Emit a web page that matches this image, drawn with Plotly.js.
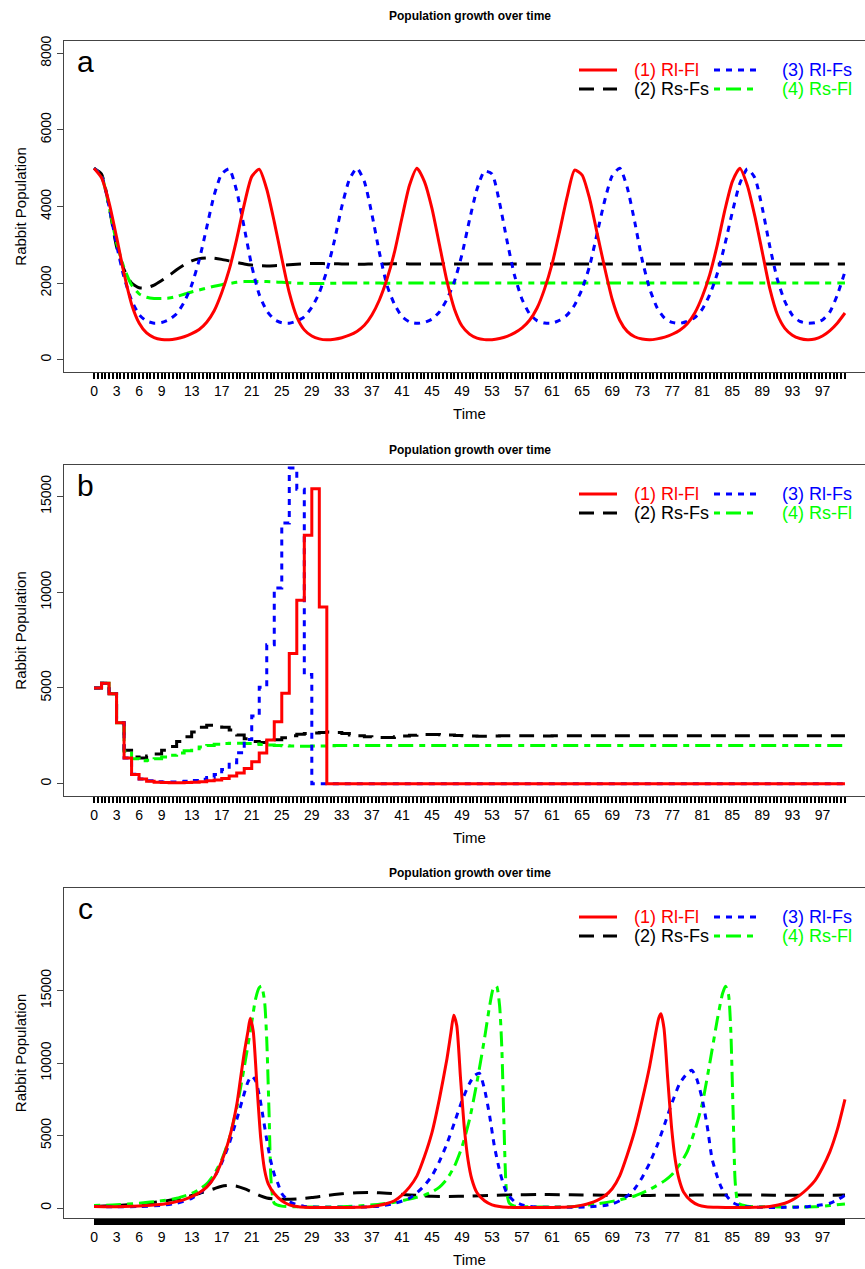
<!DOCTYPE html>
<html><head><meta charset="utf-8">
<script src="https://cdn.plot.ly/plotly-3.0.1.min.js"></script>
<style>html,body{margin:0;padding:0;overflow:hidden;background:#fff}#chart{width:880px;height:1269px}</style>
</head><body><div id="chart"></div>
<script>
// ---------------- DATA ----------------
const timeSteps = [0,1,2,3,4,5,6,7,8,9,10,11,12,13,14,15,16,17,18,19,20,21,22,23,24,25,26,27,28,29,30,31,32,33,34,35,36,37,38,39,40,41,42,43,44,45,46,47,48,49,50,51,52,53,54,55,56,57,58,59,60,61,62,63,64,65,66,67,68,69,70,71,72,73,74,75,76,77,78,79,80,81,82,83,84,85,86,87,88,89,90,91,92,93,94,95,96,97,98,99,100];
const xLabelValues = [0,3,6,9,13,17,21,25,29,33,37,41,45,49,53,57,61,65,69,73,77,81,85,89,93,97];
const yTickValuesA = [0,2000,4000,6000,8000];
const yTickValuesBC = [0,5000,10000,15000];
const seriesNames = ['(1) Rl-Fl','(2) Rs-Fs','(3) Rl-Fs','(4) Rs-Fl'];
const panelLetters = ['a','b','c'];
const chartTitle = 'Population growth over time';
const xTitle = 'Time';
const yTitle = 'Rabbit Population';

// Panel a (integer time steps)
const a_RlFl = [5000,4750,4100,3200,2250,1450,960,700,580,530,520,550,600,680,790,980,1280,1750,2350,3150,4050,4780,4970,4450,3600,2650,1750,1120,780,620,545,520,535,575,640,740,900,1170,1560,2100,2800,3700,4550,5000,4650,3950,3000,2050,1320,880,670,565,525,525,555,610,700,830,1030,1350,1850,2500,3350,4250,4950,4820,4200,3300,2400,1580,1030,740,600,540,520,545,590,665,770,940,1220,1650,2230,3000,3900,4650,5000,4550,3750,2800,1850,1180,820,640,555,522,540,620,760,960,1220];
const a_RsFs = [5000,4850,4000,2950,2350,2000,1880,1880,1950,2070,2200,2350,2480,2580,2640,2660,2650,2620,2580,2540,2500,2470,2455,2450,2455,2465,2480,2495,2505,2510,2510,2508,2505,2500,2497,2495,2495,2497,2500,2502,2503,2503,2502,2500,2499,2498,2498,2499,2500,2501,2501,2501,2500,2500,2499,2499,2500,2500,2500,2501,2500,2500,2500,2500,2500,2500,2500,2500,2500,2500,2500,2500,2500,2500,2500,2500,2500,2500,2500,2500,2500,2500,2500,2500,2500,2500,2500,2500,2500,2500,2500,2500,2500,2500,2500,2500,2500,2500,2500,2500,2500];
const a_RlFs = [5000,4800,4000,3000,2150,1550,1180,1010,955,970,1050,1200,1500,1950,2600,3450,4300,4850,4980,4400,3450,2450,1700,1280,1050,965,955,1010,1120,1370,1750,2320,3100,4000,4700,5000,4650,3800,2800,1950,1450,1130,990,950,975,1060,1250,1580,2050,2750,3650,4450,4920,4850,4100,3100,2200,1580,1200,1020,960,955,1030,1170,1430,1850,2450,3300,4150,4800,5000,4500,3600,2600,1850,1350,1080,975,950,1000,1100,1320,1700,2250,3000,3850,4600,4980,4750,3950,2950,2100,1520,1160,1000,955,965,1040,1250,1700,2300];
const a_RsFl = [5000,4800,4000,3050,2400,1950,1720,1630,1600,1600,1610,1650,1710,1770,1820,1870,1920,1960,1990,2020,2040,2045,2045,2040,2030,2020,2010,2000,1995,1992,1992,1994,1997,2000,2002,2003,2003,2002,2000,1999,2000,2000,2000,2000,2000,2000,2000,2000,2000,2000,2000,2000,2000,2000,2000,2000,2000,2000,2000,2000,2000,2000,2000,2000,2000,2000,2000,2000,2000,2000,2000,2000,2000,2000,2000,2000,2000,2000,2000,2000,2000,2000,2000,2000,2000,2000,2000,2000,2000,2000,2000,2000,2000,2000,2000,2000,2000,2000,2000,2000,2000];

// Panel b (integer time steps, drawn as steps)
const b_RlFl = [5000,5250,4700,3180,1350,480,250,130,80,60,50,50,60,80,110,150,200,280,400,560,800,1150,1600,2280,3240,4720,6800,9580,12970,15400,9230,0,0,0,0,0,0,0,0,0,0,0,0,0,0,0,0,0,0,0,0,0,0,0,0,0,0,0,0,0,0,0,0,0,0,0,0,0,0,0,0,0,0,0,0,0,0,0,0,0,0,0,0,0,0,0,0,0,0,0,0,0,0,0,0,0,0,0,0,0,0];
const b_RsFs = [5000,5250,4700,3180,1750,1400,1350,1450,1550,1750,1950,2200,2450,2700,2950,3050,3050,2950,2800,2550,2350,2200,2150,2200,2300,2400,2500,2580,2620,2650,2680,2700,2680,2620,2550,2500,2450,2420,2410,2420,2450,2490,2530,2560,2570,2570,2560,2540,2520,2500,2490,2480,2480,2490,2500,2510,2510,2505,2500,2495,2495,2500,2500,2500,2500,2500,2500,2500,2500,2500,2500,2500,2500,2500,2500,2500,2500,2500,2500,2500,2500,2500,2500,2500,2500,2500,2500,2500,2500,2500,2500,2500,2500,2500,2500,2500,2500,2500,2500,2500,2500];
const b_RlFs = [5000,5250,4700,3180,1350,500,250,150,100,90,90,100,130,170,230,320,480,740,1100,1620,2310,3530,5040,7260,10220,13610,16480,15380,5700,0,0,0,0,0,0,0,0,0,0,0,0,0,0,0,0,0,0,0,0,0,0,0,0,0,0,0,0,0,0,0,0,0,0,0,0,0,0,0,0,0,0,0,0,0,0,0,0,0,0,0,0,0,0,0,0,0,0,0,0,0,0,0,0,0,0,0,0,0,0,0,0];
const b_RsFl = [5000,5250,4700,3180,1700,1300,1200,1230,1300,1390,1490,1600,1720,1830,1920,2000,2060,2100,2120,2120,2100,2080,2050,2020,2000,1980,1970,1960,1960,1965,1975,1985,1995,2000,2000,2000,2000,2000,2000,2000,2000,2000,2000,2000,2000,2000,2000,2000,2000,2000,2000,2000,2000,2000,2000,2000,2000,2000,2000,2000,2000,2000,2000,2000,2000,2000,2000,2000,2000,2000,2000,2000,2000,2000,2000,2000,2000,2000,2000,2000,2000,2000,2000,2000,2000,2000,2000,2000,2000,2000,2000,2000,2000,2000,2000,2000,2000,2000,2000,2000,2000];

// Panel c (irregular sampling, finer around the peaks)
const c_RlFl_t = [0,2,4,6,8,10,11,12,13,14,15,16,17,18,19,19.5,20,20.5,20.8,21.2,21.7,22.2,22.7,23.2,24,25,26,27,28,30,33,35,37,38,39,40,41,42,43,44,45,46,47,47.5,47.9,48.3,48.8,49.3,49.8,50.3,51,52,53,54,55,57,60,62,64,65,66,67,68,69,70,71,72,73,74,74.7,75.2,75.5,75.9,76.4,76.9,77.4,77.9,78.5,79.5,80.5,81.5,83,86,88,90,92,93,94,95,96,97,98,99,100];
const c_RlFl   = [110,90,100,130,200,330,440,580,780,1050,1440,2110,3220,4770,7100,8900,10700,12200,13100,12200,8400,4800,2660,1670,1000,500,220,100,50,28,28,45,110,190,310,500,890,1440,2220,3550,5200,7550,10300,12000,13300,12600,9000,5600,3330,2000,1050,500,220,100,50,28,28,45,110,200,330,530,830,1330,2220,3660,5330,7440,9800,11800,13100,13400,12400,8900,5600,3330,2000,1110,500,200,90,45,28,45,110,330,560,890,1330,1890,2780,3890,5440,7500];
const c_RsFs_t = [0,3,6,9,12,14,16,17,18,19,20,21,22,23,24,25,27,29,31,33,35,37,39,41,43,45,47,50,53,56,59,62,65,68,71,74,77,80,83,86,89,92,95,98,100];
const c_RsFs   = [110,170,280,450,720,1000,1330,1500,1560,1500,1330,1110,870,690,620,600,620,720,870,980,1060,1070,1020,940,870,810,800,820,870,910,930,920,900,880,870,870,880,890,900,900,890,880,880,885,890];
const c_RlFs_t = [0,3,6,9,11,13,14,15,16,17,18,19,20,20.5,21,21.5,22,22.5,23,23.5,24,24.5,25,26,27,28,30,33,36,38,40,42,43,44,45,46,47,48,49,50,50.7,51.3,52,52.7,53.3,54,54.5,55,56,57,58,60,63,66,68,69,70,71,72,73,74,75,76,77,78,79,79.6,80.2,81,81.7,82.3,83,83.5,84,85,86,87,89,92,95,97,98,99,100];
const c_RlFs   = [110,80,100,190,330,670,1000,1440,2110,3110,4440,6100,7900,8700,9100,8800,7800,6300,4700,3330,2330,1670,1000,440,220,110,55,45,67,130,310,670,1050,1550,2220,3220,4440,5900,7400,8600,9150,9300,8200,6300,4300,2600,1670,1000,440,220,110,55,45,78,170,280,500,830,1330,2110,3110,4330,5800,7300,8600,9300,9500,9000,7500,5500,3400,2150,1450,1000,390,170,90,45,45,90,220,330,560,890];
const c_RsFl_t = [0,3,6,9,11,13,14,15,16,17,18,19,20,21,21.5,22,22.3,22.7,23,23.3,23.6,24,25,27,30,33,36,38,40,42,44,45,46,47,48,49,50,51,52,52.7,53.2,53.6,54,54.3,54.6,54.9,55.3,56,58,61,64,67,70,72,74,76,77,78,79,80,81,82,83,83.7,84.1,84.5,84.8,85.1,85.4,85.8,87,90,93,96,98,100];
const c_RsFl   = [170,220,330,500,670,1000,1280,1670,2330,3330,4770,6900,9700,12800,14400,15200,15300,14300,11600,6700,1670,330,130,80,67,90,170,255,390,610,890,1110,1440,2000,2890,4220,6100,8700,11700,14000,15200,15300,14000,11100,5600,1330,330,130,80,67,100,280,560,830,1280,1890,2330,3000,3890,5330,7200,10000,13000,14800,15300,14700,12200,6700,1670,330,130,80,67,90,170,280];

// ---------------- STYLE / LAYOUT ----------------
const W = 880, H = 1269, ML = 64, MR = 5, MT = 41, MB = 51;
const PW = W - ML - MR, PH = H - MT - MB;
const fx = px => (px - ML) / PW;
const fy = py => (H - MB - py) / PH;
const FONT = 'Liberation Sans, Arial, Helvetica, sans-serif';
const colors = ['#FF0000', '#000000', '#0000FF', '#00FF00'];
const dashes = ['solid', '15px,9px', '6px,6px', '6px,6px,15px,6px'];
const LW = 3;
const panelTop = [41, 465, 888];
const boxH = 331;
const yRanges = [[-320, 8320], [-640, 16640], [-690, 22080]];
const yTicks = [yTickValuesA, yTickValuesBC, yTickValuesBC];
const tickSteps = [0.5, 0.5, 0.1];

function xAxis(i) {
  const step = tickSteps[i];
  const vals = [], txt = [];
  const n = Math.round(100 / step);
  for (let k = 0; k <= n; k++) {
    const v = +(k * step).toFixed(2);
    vals.push(v);
    txt.push(xLabelValues.includes(v) ? String(v) : '');
  }
  return {
    domain: [0, 1], anchor: i === 0 ? 'y' : 'y' + (i + 1), range: [-4, 104],
    showline: true, mirror: true, linecolor: '#444', linewidth: 1,
    ticks: 'outside', ticklen: 6, tickwidth: i === 2 ? 1 : 2, tickcolor: '#000',
    tickmode: 'array', tickvals: vals, ticktext: txt,
    tickfont: {family: FONT, size: 14, color: '#000'},
    showgrid: false, zeroline: false,
    title: {text: xTitle, font: {family: FONT, size: 15, color: '#000'}, standoff: 10}
  };
}
function yAxis(i) {
  const top = panelTop[i], bot = top + boxH;
  return {
    domain: [fy(bot), fy(top)], anchor: i === 0 ? 'x' : 'x' + (i + 1), range: yRanges[i],
    showline: true, mirror: true, linecolor: '#444', linewidth: 1,
    ticks: 'outside', ticklen: 6, tickwidth: 1, tickcolor: '#444',
    tickmode: 'array', tickvals: yTicks[i], ticktext: yTicks[i].map(String), tickangle: -90,
    tickfont: {family: FONT, size: 14, color: '#000'},
    showgrid: false, zeroline: false,
    title: {text: yTitle, font: {family: FONT, size: 15, color: '#000'}, standoff: 8}
  };
}

const panels = [
  {x: [timeSteps, timeSteps, timeSteps, timeSteps], y: [a_RlFl, a_RsFs, a_RlFs, a_RsFl], shape: 'spline'},
  {x: [timeSteps, timeSteps, timeSteps, timeSteps], y: [b_RlFl, b_RsFs, b_RlFs, b_RsFl], shape: 'hv'},
  {x: [c_RlFl_t, c_RsFs_t, c_RlFs_t, c_RsFl_t], y: [c_RlFl, c_RsFs, c_RlFs, c_RsFl], shape: 'spline'}
];
const drawOrder = [1, 3, 2, 0];
const traces = [];
panels.forEach((p, i) => {
  drawOrder.forEach(s => {
    traces.push({
      type: 'scatter', mode: 'lines', name: seriesNames[s],
      x: p.x[s], y: p.y[s],
      xaxis: i === 0 ? 'x' : 'x' + (i + 1), yaxis: i === 0 ? 'y' : 'y' + (i + 1),
      line: {color: colors[s], width: LW, dash: dashes[s], shape: p.shape, smoothing: 0.6},
      showlegend: false, hoverinfo: 'skip'
    });
  });
});

const annotations = [], shapes = [];
const titleY = [16, 450, 873];
const letterDY = 21, legDY = [29, 48];
const legCols = [{x0: 579, x1: 617, tx: 632}, {x0: 714, x1: 757, tx: 780}];
const legSeries = [[0, 1], [2, 3]];
for (let i = 0; i < 3; i++) {
  const top = panelTop[i];
  annotations.push({xref: 'paper', yref: 'paper', x: fx(469.5), y: fy(titleY[i]), text: '<b>' + chartTitle + '</b>',
    showarrow: false, xanchor: 'center', yanchor: 'middle', font: {family: FONT, size: 12, color: '#000'}});
  annotations.push({xref: 'paper', yref: 'paper', x: fx(85), y: fy(top + letterDY), text: panelLetters[i],
    showarrow: false, xanchor: 'center', yanchor: 'middle', font: {family: FONT, size: 30, color: '#000'}});
  for (let c = 0; c < 2; c++) {
    for (let r = 0; r < 2; r++) {
      const s = legSeries[c][r];
      const yy = top + legDY[r];
      shapes.push({type: 'line', xref: 'paper', yref: 'paper', x0: fx(legCols[c].x0), x1: fx(legCols[c].x1), y0: fy(yy), y1: fy(yy),
        line: {color: colors[s], width: LW, dash: dashes[s]}});
      annotations.push({xref: 'paper', yref: 'paper', x: fx(legCols[c].tx), y: fy(yy), text: seriesNames[s],
        showarrow: false, xanchor: 'left', yanchor: 'middle', font: {family: FONT, size: 18, color: colors[s]}});
    }
  }
}

const layout = {
  width: W, height: H, margin: {l: ML, r: MR, t: MT, b: MB},
  paper_bgcolor: '#fff', plot_bgcolor: '#fff', showlegend: false,
  xaxis: xAxis(0), yaxis: yAxis(0), xaxis2: xAxis(1), yaxis2: yAxis(1), xaxis3: xAxis(2), yaxis3: yAxis(2),
  annotations: annotations, shapes: shapes
};
Plotly.newPlot('chart', traces, layout, {displayModeBar: false, staticPlot: true});
</script></body></html>
